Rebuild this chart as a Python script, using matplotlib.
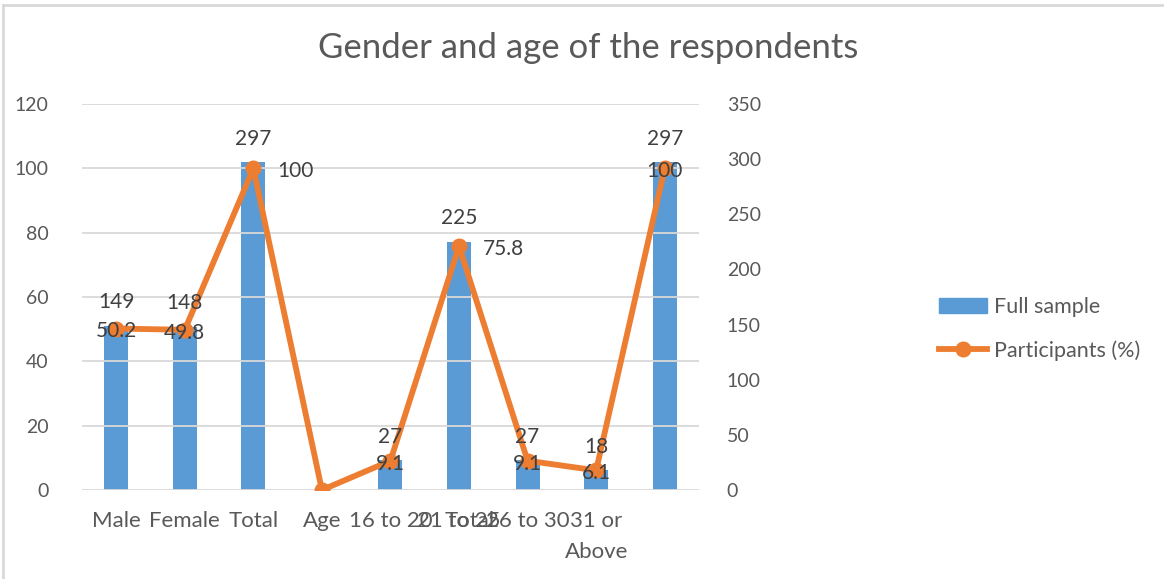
import numpy as np
import matplotlib
matplotlib.use("Agg")
import matplotlib.pyplot as plt
from matplotlib.lines import Line2D

# ---- data ----
categories = ["Male", "Female", "Total", "Age", "16 to 20", "21 to 25",
              "26 to 30", "31 or\nAbove", ""]
full_sample = [149, 148, 297, np.nan, 27, 225, 27, 18, 297]
participants_pct = [50.2, 49.8, 100, 0, 9.1, 75.8, 9.1, 6.1, 100]
pct_label_pos = ["center", "center", "right", None, "center", "right",
                 "center", "center", "center"]

BLUE = "#5B9BD5"
ORANGE = "#ED7D31"
GREY_TXT = "#595959"
LABEL_TXT = "#404040"
GRID = "#D9D9D9"

plt.rcParams["font.family"] = ["Lato", "DejaVu Sans"]

fig = plt.figure(figsize=(11.64, 5.79), dpi=100)
ax = fig.add_axes([0.0704, 0.1537, 0.5301, 0.6667])
ax2 = ax.twinx()

x = np.arange(len(categories))

# line on primary axis (percent), bars on secondary (counts)
ax.set_zorder(ax2.get_zorder() + 1)
ax.patch.set_visible(False)

ax2.bar(x, full_sample, width=0.35, color=BLUE, zorder=2)
ax.plot(x, participants_pct, color=ORANGE, lw=4.2, marker="o", ms=10.5,
        solid_joinstyle="round", zorder=3)

ax.set_xlim(-0.5, len(categories) - 0.5)
ax.set_ylim(0, 120)
ax.set_yticks(np.arange(0, 121, 20))
ax2.set_ylim(0, 350)
ax2.set_yticks(np.arange(0, 351, 50))

ax.set_xticks(x, categories, linespacing=1.7)
# the overlapping "Total" label that sits on top of "21 to 25"
ax.xaxis.remove_overlapping_locs = False
ax.set_xticks([5.15], ["Total"], minor=True)
ax.tick_params(axis="x", which="both", length=0, pad=15,
               labelsize=16, labelcolor=GREY_TXT)
ax.tick_params(axis="y", length=0, pad=24, labelsize=14, labelcolor=GREY_TXT)
ax2.tick_params(axis="y", length=0, pad=20, labelsize=14, labelcolor=GREY_TXT)

ax.grid(axis="y", color=GRID, lw=1.3)
ax.set_axisbelow(True)
for a in (ax, ax2):
    for s in a.spines.values():
        s.set_visible(False)

# bar labels (drawn on the top axes so they sit above the line)
for xi, v in zip(x, full_sample):
    if np.isnan(v):
        continue
    ax.annotate(f"{v:g}", (xi, v), xycoords=ax2.transData, xytext=(0, 17),
                textcoords="offset points", ha="center", va="center",
                fontsize=15, color=LABEL_TXT, zorder=5)

# line labels
for xi, v, pos in zip(x, participants_pct, pct_label_pos):
    if pos is None:
        continue
    if pos == "right":
        ax.annotate(f"{v:g}", (xi, v), xytext=(17, -2), textcoords="offset points",
                    ha="left", va="center", fontsize=15, color=LABEL_TXT, zorder=5)
    else:
        ax.annotate(f"{v:g}", (xi, v), xytext=(0, -2), textcoords="offset points",
                    ha="center", va="center", fontsize=15, color=LABEL_TXT, zorder=5)

fig.suptitle("Gender and age of the respondents", x=0.505, y=0.945,
             fontsize=25, color=GREY_TXT)

handles = [plt.Rectangle((0, 0), 1, 1, color=BLUE),
           Line2D([0], [0], color=ORANGE, lw=4.2, marker="o", ms=10.5)]
fig.legend(handles, ["Full sample", "Participants (%)"], loc="center left",
           bbox_to_anchor=(0.799, 0.432), frameon=False, fontsize=15.5,
           labelcolor=GREY_TXT, handlelength=2.25, handletextpad=0.3,
           labelspacing=1.1, borderaxespad=0)

# light frame at the top and left edges
fig.add_artist(Line2D([0.003, 0.003], [0, 0.992], color=GRID, lw=2,
                      transform=fig.transFigure))
fig.add_artist(Line2D([0.003, 1], [0.992, 0.992], color=GRID, lw=2,
                      transform=fig.transFigure))

fig.savefig("out.png", dpi=100)
